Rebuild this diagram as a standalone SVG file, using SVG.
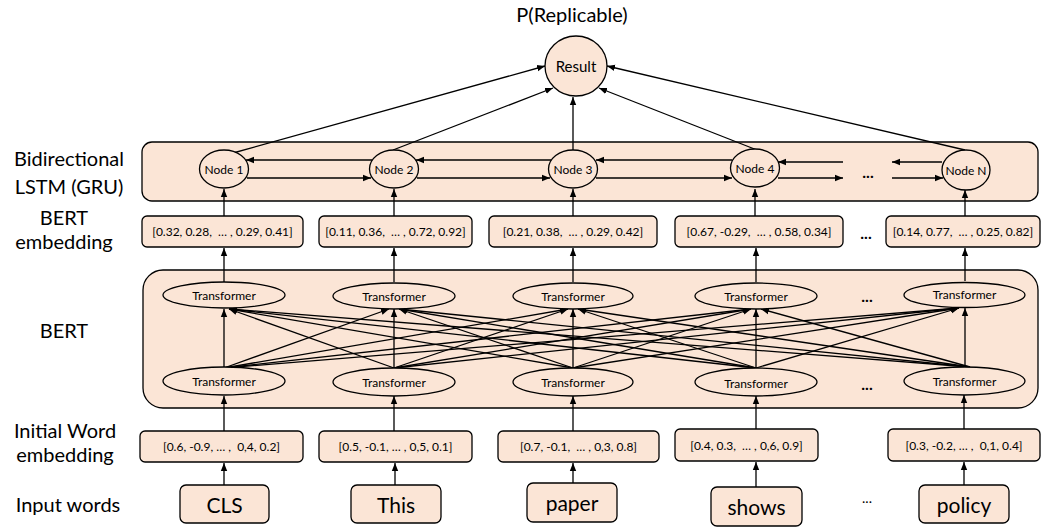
<svg xmlns="http://www.w3.org/2000/svg" width="1043" height="527" viewBox="0 0 1043 527">
  <style>
    text { font-family: Lato, "Open Sans", "Liberation Sans", sans-serif; fill: #000; text-anchor: middle; }
    .lbl { font-size: 20px; }
    .word { font-size: 21px; dominant-baseline: central; }
    .vec { font-size: 12px; dominant-baseline: central; white-space: pre; }
    .tf { font-size: 12px; dominant-baseline: central; }
    .nd { font-size: 12px; dominant-baseline: central; }
    .dots { font-size: 16px; font-weight: bold; dominant-baseline: central; }
    .panel { fill: #FBE5D6; stroke: #000; stroke-width: 1.3; }
    .box { fill: #FBE5D6; stroke: #000; stroke-width: 1.3; }
    .ell { fill: #FBE5D6; stroke: #000; stroke-width: 1.3; }
    .arr { stroke: #000; stroke-width: 1.3; fill: none; marker-end: url(#head); }
  </style>
  <defs>
    <marker id="head" markerUnits="userSpaceOnUse" markerWidth="9" markerHeight="8" refX="8" refY="4" orient="auto">
      <path d="M0,0.8 L8,4 L0,7.2 z" fill="#000"/>
    </marker>
  </defs>

  <!-- row labels -->
  <g id="labels">
    <text class="lbl" x="572" y="22">P(Replicable)</text>
    <text class="lbl" x="69" y="166">Bidirectional</text>
    <text class="lbl" x="69" y="194">LSTM (GRU)</text>
    <text class="lbl" x="64" y="225">BERT</text>
    <text class="lbl" x="64" y="249">embedding</text>
    <text class="lbl" x="64" y="338">BERT</text>
    <text class="lbl" x="65" y="438">Initial Word</text>
    <text class="lbl" x="65" y="462">embedding</text>
    <text class="lbl" x="68" y="512">Input words</text>
  </g>

  <!-- background panels -->
  <g id="lstm-panel">
    <rect class="panel" x="142" y="142" width="896" height="59" rx="10"/>
  </g>
  <g id="bert-panel">
    <rect class="panel" x="143" y="270" width="895" height="138" rx="20"/>
  </g>

  <!-- connectors -->
  <g id="connectors">
    <!-- LSTM nodes to result -->
    <line class="arr" x1="233" y1="153" x2="545" y2="66"/>
    <line class="arr" x1="393" y1="150" x2="553" y2="88"/>
    <line class="arr" x1="573" y1="150" x2="573" y2="97"/>
    <line class="arr" x1="757" y1="150" x2="599" y2="88"/>
    <line class="arr" x1="965" y1="150" x2="607" y2="66"/>

    <!-- bidirectional recurrence -->
    <line class="arr" x1="372" y1="160" x2="246" y2="160"/>
    <line class="arr" x1="247" y1="178" x2="371" y2="178"/>
    <line class="arr" x1="551" y1="160" x2="416" y2="160"/>
    <line class="arr" x1="417" y1="178" x2="550" y2="178"/>
    <line class="arr" x1="732" y1="160" x2="596" y2="160"/>
    <line class="arr" x1="596" y1="178" x2="732" y2="178"/>
    <line class="arr" x1="843" y1="162" x2="778" y2="162"/>
    <line class="arr" x1="778" y1="178" x2="843" y2="178"/>
    <line class="arr" x1="942" y1="162" x2="892" y2="162"/>
    <line class="arr" x1="892" y1="178" x2="943" y2="178"/>

    <!-- BERT embedding to LSTM nodes -->
    <line class="arr" x1="224" y1="216" x2="224" y2="189"/>
    <line class="arr" x1="394" y1="216" x2="394" y2="189"/>
    <line class="arr" x1="573" y1="216" x2="573" y2="189"/>
    <line class="arr" x1="755" y1="216" x2="755" y2="189"/>
    <line class="arr" x1="965" y1="216" x2="965" y2="190"/>

    <!-- top transformers to BERT embedding -->
    <line class="arr" x1="224" y1="282" x2="224" y2="248"/>
    <line class="arr" x1="394" y1="282" x2="394" y2="248"/>
    <line class="arr" x1="573" y1="282" x2="573" y2="248"/>
    <line class="arr" x1="756" y1="282" x2="756" y2="248"/>
    <line class="arr" x1="965" y1="281" x2="965" y2="248"/>

    <!-- full attention mesh: every lower transformer feeds every upper one -->
    <line class="arr" x1="224" y1="368" x2="224" y2="309"/>
    <line class="arr" x1="224" y1="368" x2="389" y2="309"/>
    <line class="arr" x1="224" y1="368" x2="568" y2="309"/>
    <line class="arr" x1="224" y1="368" x2="751" y2="309"/>
    <line class="arr" x1="224" y1="368" x2="959" y2="308"/>

    <line class="arr" x1="394" y1="368" x2="229" y2="309"/>
    <line class="arr" x1="394" y1="368" x2="394" y2="309"/>
    <line class="arr" x1="394" y1="368" x2="568" y2="309"/>
    <line class="arr" x1="394" y1="368" x2="751" y2="309"/>
    <line class="arr" x1="394" y1="368" x2="959" y2="308"/>

    <line class="arr" x1="573" y1="368" x2="229" y2="309"/>
    <line class="arr" x1="573" y1="368" x2="399" y2="309"/>
    <line class="arr" x1="573" y1="368" x2="573" y2="309"/>
    <line class="arr" x1="573" y1="368" x2="751" y2="309"/>
    <line class="arr" x1="573" y1="368" x2="959" y2="308"/>

    <line class="arr" x1="756" y1="368" x2="229" y2="309"/>
    <line class="arr" x1="756" y1="368" x2="399" y2="309"/>
    <line class="arr" x1="756" y1="368" x2="578" y2="309"/>
    <line class="arr" x1="756" y1="368" x2="756" y2="309"/>
    <line class="arr" x1="756" y1="368" x2="959" y2="308"/>

    <line class="arr" x1="970" y1="367" x2="229" y2="309"/>
    <line class="arr" x1="970" y1="367" x2="399" y2="309"/>
    <line class="arr" x1="970" y1="367" x2="578" y2="309"/>
    <line class="arr" x1="970" y1="367" x2="761" y2="309"/>
    <line class="arr" x1="965" y1="367" x2="965" y2="308"/>

    <!-- initial embedding to lower transformers -->
    <line class="arr" x1="224" y1="431" x2="224" y2="396"/>
    <line class="arr" x1="394" y1="431" x2="394" y2="396"/>
    <line class="arr" x1="573" y1="431" x2="573" y2="396"/>
    <line class="arr" x1="756" y1="429" x2="756" y2="396"/>
    <line class="arr" x1="964" y1="429" x2="964" y2="395"/>

    <!-- input words to initial embedding -->
    <line class="arr" x1="224" y1="485" x2="224" y2="463"/>
    <line class="arr" x1="395" y1="485" x2="395" y2="463"/>
    <line class="arr" x1="573" y1="483" x2="573" y2="463"/>
    <line class="arr" x1="756" y1="487" x2="756" y2="462"/>
    <line class="arr" x1="964" y1="485" x2="964" y2="462"/>
  </g>

  <!-- output node -->
  <g id="result">
    <ellipse class="ell" cx="576" cy="66" rx="31" ry="30"/>
    <text class="nd" x="576" y="66" style="font-size:15px">Result</text>
  </g>

  <!-- recurrent nodes -->
  <g id="node-1">
    <ellipse class="ell" cx="224" cy="169" rx="24.5" ry="19"/>
    <text class="nd" x="224" y="169">Node 1</text>
  </g>
  <g id="node-2">
    <ellipse class="ell" cx="394" cy="169" rx="24.5" ry="19"/>
    <text class="nd" x="394" y="169">Node 2</text>
  </g>
  <g id="node-3">
    <ellipse class="ell" cx="573" cy="169" rx="24.5" ry="19"/>
    <text class="nd" x="573" y="169">Node 3</text>
  </g>
  <g id="node-4">
    <ellipse class="ell" cx="755" cy="168" rx="24.5" ry="19"/>
    <text class="nd" x="755" y="168">Node 4</text>
  </g>
  <g id="lstm-dots">
    <text class="dots" x="868" y="171">...</text>
  </g>
  <g id="node-n">
    <ellipse class="ell" cx="966" cy="170" rx="24" ry="20"/>
    <text class="nd" x="966" y="170">Node N</text>
  </g>

  <!-- BERT output vectors -->
  <g id="bert-emb-1">
    <rect class="box" x="142" y="216" width="161" height="31" rx="5"/>
    <text class="vec" x="222.5" y="231.5">[0.32, 0.28,  … , 0.29, 0.41]</text>
  </g>
  <g id="bert-emb-2">
    <rect class="box" x="319" y="216" width="153" height="31" rx="5"/>
    <text class="vec" x="395.5" y="231.5">[0.11, 0.36,  … , 0.72, 0.92]</text>
  </g>
  <g id="bert-emb-3">
    <rect class="box" x="489" y="216" width="168" height="31" rx="5"/>
    <text class="vec" x="573" y="231.5">[0.21, 0.38,  … , 0.29, 0.42]</text>
  </g>
  <g id="bert-emb-4">
    <rect class="box" x="675" y="216" width="168" height="31" rx="5"/>
    <text class="vec" x="759" y="231.5">[0.67, -0.29,  … , 0.58, 0.34]</text>
  </g>
  <g id="bert-emb-dots">
    <text class="dots" x="866" y="232">...</text>
  </g>
  <g id="bert-emb-n">
    <rect class="box" x="886" y="216" width="154" height="31" rx="5"/>
    <text class="vec" x="963" y="231.5">[0.14, 0.77,  … , 0.25, 0.82]</text>
  </g>

  <!-- upper transformer layer -->
  <g id="tf-top-1">
    <ellipse class="ell" cx="224" cy="295" rx="61" ry="13"/>
    <text class="tf" x="224" y="295">Transformer</text>
  </g>
  <g id="tf-top-2">
    <ellipse class="ell" cx="394" cy="296" rx="61" ry="13"/>
    <text class="tf" x="394" y="296">Transformer</text>
  </g>
  <g id="tf-top-3">
    <ellipse class="ell" cx="573" cy="296" rx="60" ry="13"/>
    <text class="tf" x="573" y="296">Transformer</text>
  </g>
  <g id="tf-top-4">
    <ellipse class="ell" cx="756" cy="296" rx="61" ry="13"/>
    <text class="tf" x="756" y="296">Transformer</text>
  </g>
  <g id="tf-top-dots">
    <text class="dots" x="867" y="295">...</text>
  </g>
  <g id="tf-top-n">
    <ellipse class="ell" cx="964.5" cy="295" rx="60.5" ry="12.5"/>
    <text class="tf" x="964.5" y="294">Transformer</text>
  </g>

  <!-- lower transformer layer -->
  <g id="tf-bot-1">
    <ellipse class="ell" cx="224" cy="381" rx="61" ry="14"/>
    <text class="tf" x="224" y="381">Transformer</text>
  </g>
  <g id="tf-bot-2">
    <ellipse class="ell" cx="394" cy="382" rx="61" ry="14"/>
    <text class="tf" x="394" y="382">Transformer</text>
  </g>
  <g id="tf-bot-3">
    <ellipse class="ell" cx="573" cy="382" rx="60" ry="14"/>
    <text class="tf" x="573" y="382">Transformer</text>
  </g>
  <g id="tf-bot-4">
    <ellipse class="ell" cx="756" cy="382" rx="61" ry="14"/>
    <text class="tf" x="756" y="383">Transformer</text>
  </g>
  <g id="tf-bot-dots">
    <text class="dots" x="867" y="383">...</text>
  </g>
  <g id="tf-bot-n">
    <ellipse class="ell" cx="964.5" cy="381" rx="60.5" ry="14"/>
    <text class="tf" x="964.5" y="381">Transformer</text>
  </g>

  <!-- initial word vectors -->
  <g id="init-emb-1">
    <rect class="box" x="140" y="431" width="163" height="31" rx="5"/>
    <text class="vec" x="221.5" y="446.5">[0.6, -0.9, … ,  0,4, 0.2]</text>
  </g>
  <g id="init-emb-2">
    <rect class="box" x="319" y="431" width="153" height="31" rx="5"/>
    <text class="vec" x="395.5" y="446.5">[0.5, -0.1, … , 0,5, 0.1]</text>
  </g>
  <g id="init-emb-3">
    <rect class="box" x="498" y="431" width="161" height="31" rx="5"/>
    <text class="vec" x="578.5" y="446.5">[0.7, -0.1,  … , 0,3, 0.8]</text>
  </g>
  <g id="init-emb-4">
    <rect class="box" x="675" y="429" width="143" height="32" rx="5"/>
    <text class="vec" x="746.5" y="445">[0.4, 0.3,  … , 0,6, 0.9]</text>
  </g>
  <g id="init-emb-n">
    <rect class="box" x="888" y="429" width="152" height="32" rx="5"/>
    <text class="vec" x="964" y="445">[0.3, -0.2, … ,  0,1, 0.4]</text>
  </g>

  <!-- input tokens -->
  <g id="word-cls">
    <rect class="box" x="180" y="485" width="89" height="38" rx="6"/>
    <text class="word" x="224.5" y="504">CLS</text>
  </g>
  <g id="word-this">
    <rect class="box" x="351" y="485" width="90" height="38" rx="6"/>
    <text class="word" x="396" y="504">This</text>
  </g>
  <g id="word-paper">
    <rect class="box" x="527" y="483" width="90" height="39" rx="6"/>
    <text class="word" x="572" y="502">paper</text>
  </g>
  <g id="word-shows">
    <rect class="box" x="711" y="487" width="91" height="39" rx="6"/>
    <text class="word" x="756.5" y="506">shows</text>
  </g>
  <g id="word-dots">
    <text class="dots" x="867" y="497" style="font-weight:normal;font-size:14px">...</text>
  </g>
  <g id="word-policy">
    <rect class="box" x="919" y="485" width="90" height="38" rx="6"/>
    <text class="word" x="964" y="504">policy</text>
  </g>
</svg>
